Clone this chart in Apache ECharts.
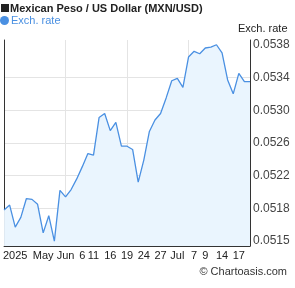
<!DOCTYPE html>
<html>
<head>
<meta charset="utf-8">
<script src="https://cdn.jsdelivr.net/npm/echarts@6/dist/echarts.min.js"></script>
<style>html,body{margin:0;padding:0;background:#fff;}#c{width:295px;height:288px;}</style>
</head>
<body>
<div id="c"></div>
<script>
var categories = ['2025-05-21','2025-05-22','2025-05-23','2025-05-26','2025-05-27','2025-05-28','2025-05-29','2025-05-30',
'2025-06-02','2025-06-03','2025-06-04','2025-06-05','2025-06-06','2025-06-09','2025-06-10','2025-06-11','2025-06-12','2025-06-13',
'2025-06-16','2025-06-17','2025-06-18','2025-06-19','2025-06-20','2025-06-23','2025-06-24','2025-06-25','2025-06-26','2025-06-27',
'2025-06-30','2025-07-01','2025-07-02','2025-07-03','2025-07-04','2025-07-07','2025-07-08','2025-07-09','2025-07-10','2025-07-11',
'2025-07-14','2025-07-15','2025-07-16','2025-07-17','2025-07-18','2025-07-21','2025-07-22'];
var rates = [0.05178,0.05184,0.05157,0.05169,0.05192,0.05191,0.05185,0.05150,0.05171,0.05140,
0.05202,0.05194,0.05203,0.05216,0.05231,0.05247,0.05245,0.05291,0.05296,0.05275,
0.05285,0.05256,0.05256,0.05252,0.05212,0.05239,0.05274,0.05288,0.05296,0.05315,
0.05336,0.05339,0.05328,0.05365,0.05372,0.05369,0.05376,0.05377,0.05380,0.05370,
0.05337,0.05320,0.05345,0.05335,0.05335];
var xLabelIndices = [2, 7, 11, 14, 16, 19, 22, 25, 28, 31, 34, 36, 39, 42];
var xLabelTexts = ['2025','May','Jun','6','11','16','19','24','27','Jul','7','9','14','17'];
var yLabelValues = [0.05140,0.0518,0.0522,0.0526,0.0530,0.0534,0.0538];
var yLabelTexts = ['0.0515','0.0518','0.0522','0.0526','0.0530','0.0534','0.0538'];
var yGridValues = [0.0518,0.0522,0.0526,0.0530,0.0534];
var yMin = 0.05134, yMax = 0.053858;

var FONT = 'Liberation Sans, Arial, sans-serif';
var chart = echarts.init(document.getElementById('c'), null, {renderer:'canvas'});
chart.setOption({
  animation: false,
  backgroundColor: '#fff',
  textStyle: {fontFamily: FONT},
  title: {text: 'Mexican Peso / US Dollar (MXN/USD)', left: 10, top: 3, padding: 0,
    textStyle: {fontSize: 11, fontWeight: 'bold', color: '#222', fontFamily: FONT}},
  graphic: [
    {type: 'rect', left: 1, top: 4, shape: {width: 8, height: 8}, style: {fill: '#222'}},
    {type: 'text', right: 8, top: 266, style: {text: '\u00a9 Chartoasis.com', font: '11px ' + FONT, fill: '#333'}}
  ],
  legend: {data: ['Exch. rate'], left: 0, top: 15, padding: 0, icon: 'circle', itemWidth: 9, itemHeight: 9, itemGap: 2,
    textStyle: {color: '#4a90e2', fontSize: 11, fontFamily: FONT, padding: [0,0,0,-3]}},
  grid: {left: 1, right: 45, top: 40, bottom: 42, containLabel: false},
  xAxis: {type: 'category', data: categories, boundaryGap: false,
    axisLine: {show: true, lineStyle: {color: '#333', width: 1}},
    axisTick: {show: false},
    splitLine: {show: true, interval: function(i){ return i > 0 && i % 11 === 0; }, lineStyle: {color: '#e4e4e4', width: 1}},
    axisLabel: {color: '#222', fontSize: 11, margin: 4, fontFamily: FONT, hideOverlap: false, showMinLabel: true,
      interval: function(i){ return xLabelIndices.indexOf(i) >= 0; },
      formatter: function(v, i){ var k = xLabelIndices.indexOf(i); return k >= 0 ? xLabelTexts[k] : ''; }}
  },
  yAxis: [
    {type: 'value', position: 'right', min: yMin, max: yMax, scale: true,
      name: 'Exch. rate', nameLocation: 'end', nameGap: 6,
      nameTextStyle: {color: '#222', fontSize: 11, fontFamily: FONT, align: 'left', padding: [0,0,0,-12]},
      axisLine: {show: true, lineStyle: {color: '#333', width: 1}},
      axisTick: {show: false, customValues: yGridValues},
      splitLine: {show: true, lineStyle: {color: '#e4e4e4', width: 1}},
      axisLabel: {customValues: yLabelValues, color: '#444', fontSize: 12, margin: 3, fontFamily: FONT, hideOverlap: false,
        formatter: function(v){ var k = yLabelValues.indexOf(v); return k >= 0 ? yLabelTexts[k] : v.toFixed(4); }}
    },
    {type: 'value', position: 'left', min: yMin, max: yMax, scale: true,
      axisLine: {show: true, onZero: false, lineStyle: {color: '#333', width: 1}},
      axisTick: {show: false}, axisLabel: {show: false}, splitLine: {show: false}}
  ],
  series: [{
    name: 'Exch. rate', type: 'line', data: rates, yAxisIndex: 0,
    symbol: 'none', showSymbol: false,
    lineStyle: {color: '#4a90e2', width: 1.3},
    itemStyle: {color: '#4a90e2'},
    areaStyle: {color: '#eaf5fe', opacity: 1}
  }]
});
</script>
</body>
</html>
